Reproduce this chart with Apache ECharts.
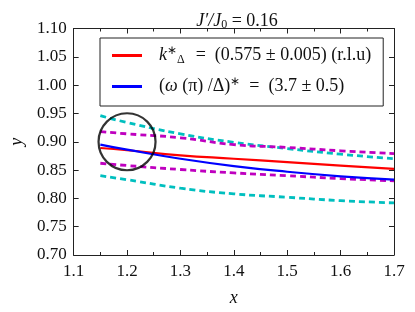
<!DOCTYPE html>
<html>
<head>
<meta charset="utf-8">
<script src="https://cdn.jsdelivr.net/npm/echarts@6/dist/echarts.min.js"></script>
<style>html,body{margin:0;padding:0;background:#fff}#c{width:415px;height:312px}</style>
</head>
<body>
<div id="c"></div>
<script>
var xs = [1.15, 1.2, 1.3, 1.4, 1.5, 1.6, 1.7];
var redK = [0.889, 0.885, 0.876, 0.870, 0.864, 0.858, 0.852];
var blueW = [0.895, 0.886, 0.870, 0.857, 0.847, 0.839, 0.833];
var magUpper = [0.918, 0.914, 0.907, 0.895, 0.890, 0.884, 0.879];
var magLower = [0.862, 0.858, 0.851, 0.845, 0.840, 0.835, 0.831];
var cyanUpper = [0.946, 0.934, 0.914, 0.899, 0.888, 0.878, 0.870];
var cyanLower = [0.840, 0.833, 0.818, 0.808, 0.802, 0.796, 0.792];
var circleX = [1.2];
var circleY = [0.90];

function pairs(a) { return xs.map(function (x, i) { return [x, a[i]]; }); }

var FONT = 'Liberation Serif';
var chart = echarts.init(document.getElementById('c'));

function axisCommon() {
  return {
    axisLine: { show: true, lineStyle: { color: '#222', width: 1 } },
    axisTick: { show: true, inside: true, length: 5, lineStyle: { color: '#222' } },
    splitLine: { show: false }
  };
}

var xBottom = Object.assign(axisCommon(), {
  type: 'value', min: 1.1, max: 1.7, interval: 0.1, position: 'bottom',
  minorTick: { show: true, splitNumber: 2, length: 3, lineStyle: { color: '#222' } },
  axisLabel: { fontFamily: FONT, fontSize: 17, color: '#111', margin: 8,
    formatter: function (v) { return v.toFixed(1); } },
  name: 'x', nameLocation: 'middle', nameGap: 34,
  nameTextStyle: { fontFamily: FONT, fontStyle: 'italic', fontSize: 18, color: '#111' }
});
var xTop = Object.assign(axisCommon(), {
  type: 'value', min: 1.1, max: 1.7, interval: 0.1, position: 'top',
  minorTick: { show: true, splitNumber: 2, length: 3, lineStyle: { color: '#222' } },
  axisLabel: { show: false }
});
var yLeft = Object.assign(axisCommon(), {
  type: 'value', min: 0.7, max: 1.1, interval: 0.05, position: 'left',
  axisLabel: { fontFamily: FONT, fontSize: 17, color: '#111', margin: 7,
    formatter: function (v) { return v.toFixed(2); } },
  name: 'y', nameLocation: 'middle', nameGap: 47, nameRotate: 90,
  nameTextStyle: { fontFamily: FONT, fontStyle: 'italic', fontSize: 18, color: '#111' }
});
var yRight = Object.assign(axisCommon(), {
  type: 'value', min: 0.7, max: 1.1, interval: 0.05, position: 'right',
  axisLabel: { show: false }
});

function lineSeries(name, data, color, dashed) {
  return {
    name: name, type: 'line', data: pairs(data), smooth: true,
    xAxisIndex: 0, yAxisIndex: 0,
    symbol: 'none', showSymbol: false,
    lineStyle: { color: color, width: dashed ? 2.8 : 2.2, type: dashed ? [6, 4] : 'solid' },
    itemStyle: { color: color },
    z: dashed ? 2 : 3, silent: true
  };
}

var option = {
  animation: false,
  backgroundColor: '#fff',
  title: {
    text: '{i|J′/J}{s|0}{t| = 0.16}', left: 232, top: 5, textAlign: 'center',
    textStyle: {
      fontFamily: FONT, fontWeight: 'normal', fontSize: 18, color: '#111',
      rich: {
        i: { fontFamily: FONT, fontStyle: 'italic', fontSize: 18, color: '#111', lineHeight: 22 },
        s: { fontFamily: FONT, fontSize: 12, color: '#111', lineHeight: 22, padding: [8, 0, 0, 0] },
        t: { fontFamily: FONT, fontSize: 18, color: '#111', lineHeight: 22 }
      }
    }
  },
  grid: { left: 68.5, right: 21, top: 28.5, bottom: 55.3, containLabel: false },
  xAxis: [xBottom, xTop],
  yAxis: [yLeft, yRight],
  legend: {
    orient: 'vertical', left: 100, top: 38,
    data: [{ name: 'k', icon: 'rect' }, { name: 'w', icon: 'rect' }],
    itemWidth: 30, itemHeight: 3, itemGap: 10,
    padding: [7, 12, 9, 12],
    borderColor: '#222', borderWidth: 1, borderRadius: 0,
    backgroundColor: '#fff',
    selectedMode: false,
    formatter: function (n) {
      if (n === 'k') return '{i|k}{sup|∗}{sub|Δ}{t|  =  (0.575 ± 0.005) (r.l.u)}';
      return '{t|(}{i|ω}{t| (π) /Δ)}{sup|∗}{t|  =  (3.7 ± 0.5)}';
    },
    textStyle: {
      fontFamily: FONT, fontSize: 18, color: '#111', padding: [0, 0, 0, 12], lineHeight: 20,
      rich: {
        t: { fontFamily: FONT, fontSize: 18, color: '#111', lineHeight: 20 },
        i: { fontFamily: FONT, fontSize: 18, fontStyle: 'italic', color: '#111', lineHeight: 20 },
        sup: { fontFamily: FONT, fontSize: 12, color: '#111', lineHeight: 20, padding: [0, 0, 9, 0] },
        sub: { fontFamily: FONT, fontSize: 12, color: '#111', lineHeight: 20, padding: [9, 2, 0, 0] }
      }
    }
  },
  series: [
    lineSeries('cu', cyanUpper, '#00BFBF', true),
    lineSeries('mu', magUpper, '#BF00BF', true),
    lineSeries('ml', magLower, '#BF00BF', true),
    lineSeries('cl', cyanLower, '#00BFBF', true),
    lineSeries('k', redK, '#FF0000', false),
    lineSeries('w', blueW, '#0000FF', false),
    {
      name: 'circle', type: 'scatter', data: circleX.map(function (x, i) { return [x, circleY[i]]; }),
      symbol: 'circle', symbolSize: 57, silent: true, z: 4,
      itemStyle: { color: 'rgba(0,0,0,0)', borderColor: '#000', borderWidth: 2.2 }
    }
  ]
};
chart.setOption(option);
</script>
</body>
</html>
